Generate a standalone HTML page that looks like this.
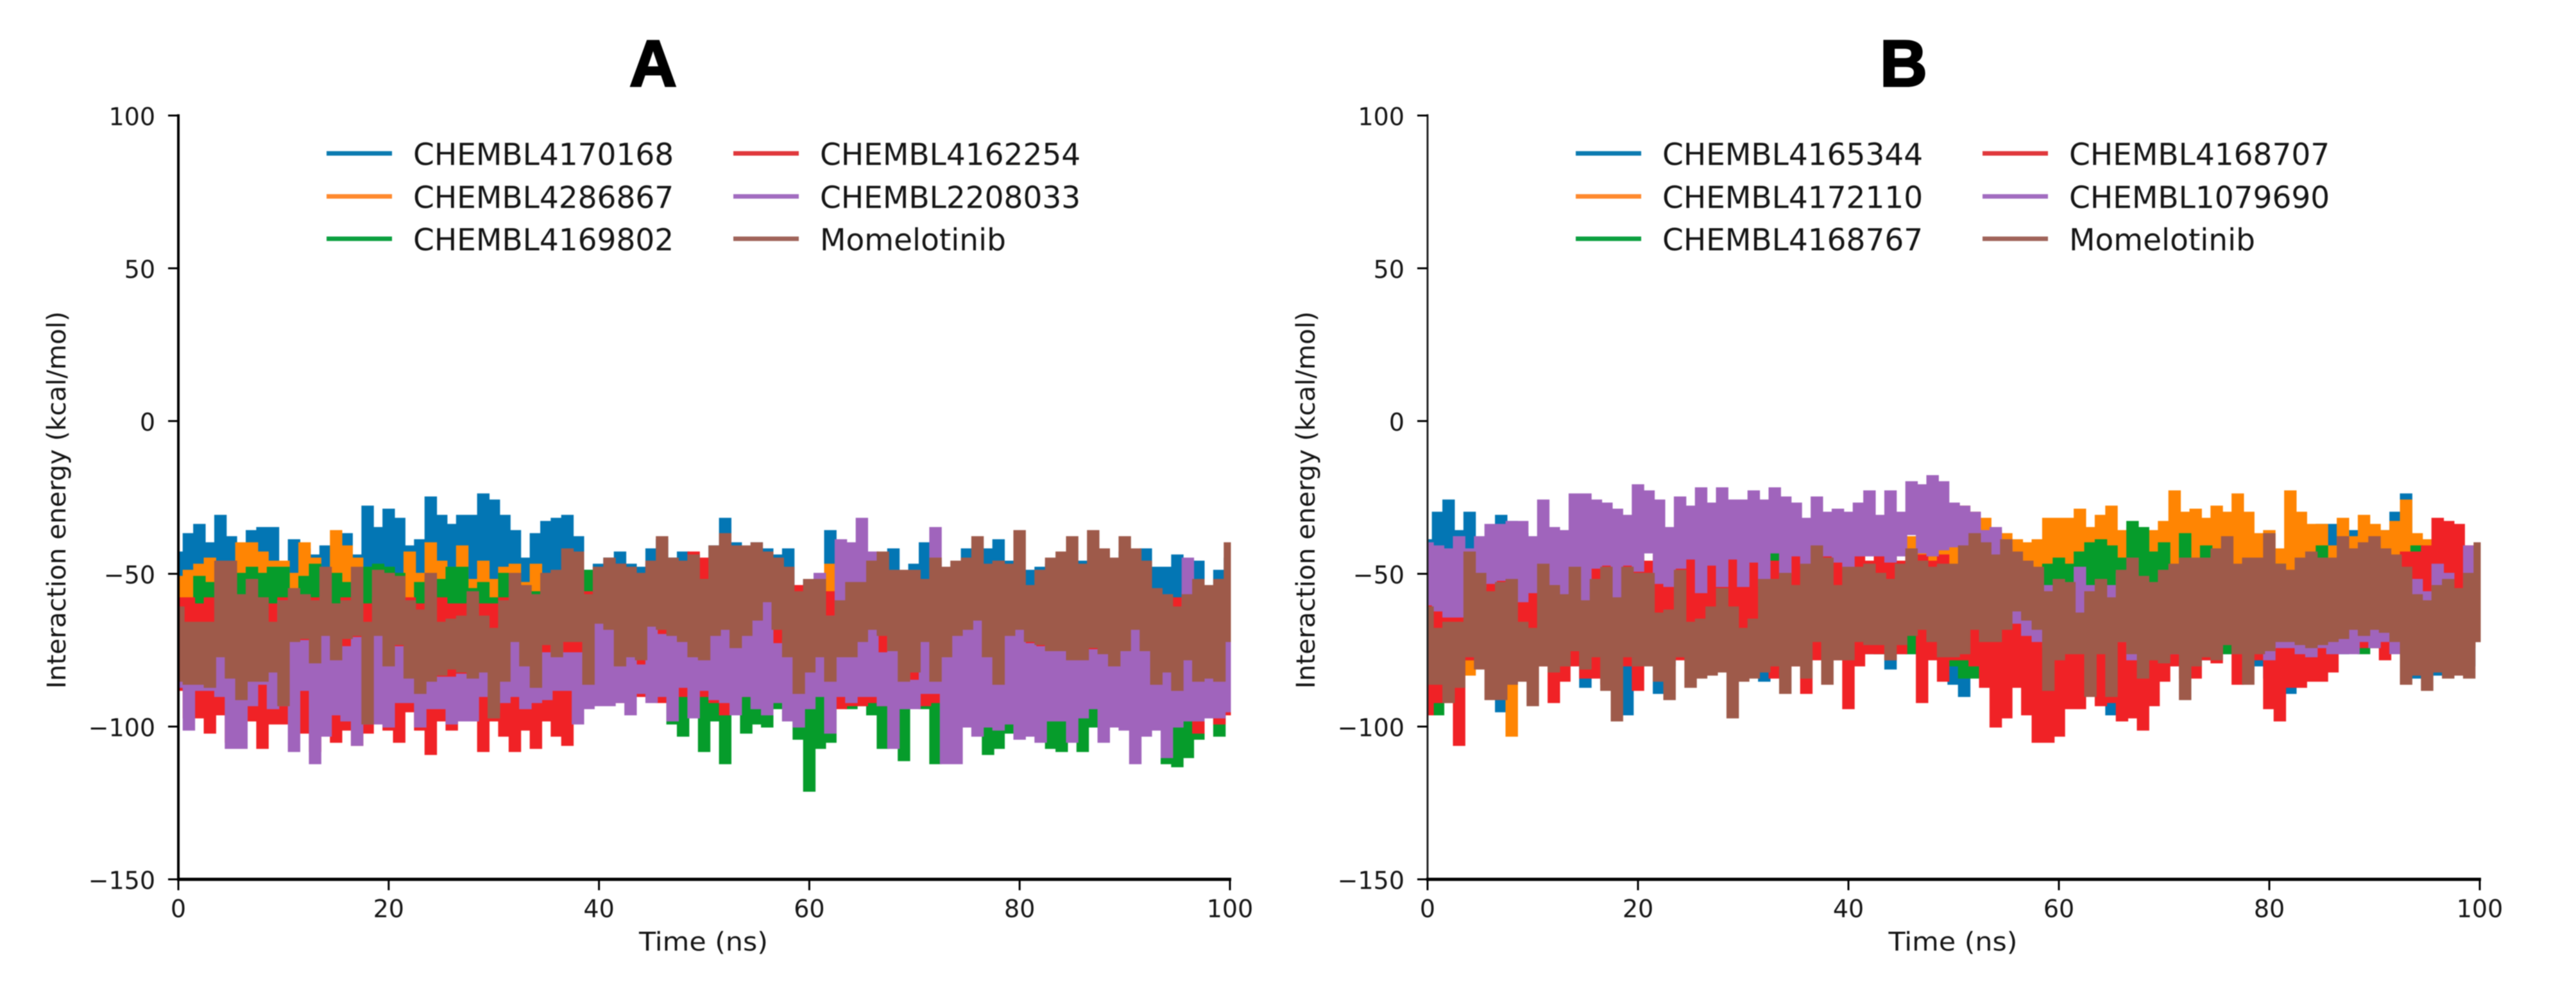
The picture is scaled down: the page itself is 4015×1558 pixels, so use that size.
<!DOCTYPE html>
<html lang="en">
<head>
<meta charset="utf-8">
<title>Interaction energy panels A and B</title>
<style>
html,body{margin:0;padding:0;background:#fff;width:4015px;height:1558px;overflow:hidden}
svg{display:block;filter:blur(0.9px)}
text{font-family:"DejaVu Sans","Liberation Sans",sans-serif;fill:#151515}
.panel-letter{font-family:"Liberation Sans",sans-serif;font-weight:700;fill:#000;stroke:#000;stroke-width:3px}
</style>
</head>
<body>
<svg id="figure" xmlns="http://www.w3.org/2000/svg" width="4015" height="1558" viewBox="0 0 4015 1558">
<rect width="4015" height="1558" fill="#fff"/>
</svg>
<script>
// Tick labels
const xTicks = [0, 20, 40, 60, 80, 100];
const yTicks = [100, 50, 0, -50, -100, -150];

// Series names
const aNames = ["CHEMBL4170168", "CHEMBL4286867", "CHEMBL4169802", "CHEMBL4162254", "CHEMBL2208033", "Momelotinib"];
const bNames = ["CHEMBL4165344", "CHEMBL4172110", "CHEMBL4168767", "CHEMBL4168707", "CHEMBL1079690", "Momelotinib"];

// Panel A: upper and lower extent of each trace for each nanosecond 0..100 (kcal/mol)
const aBlueHi = [-43,-37,-34,-40,-31,-38,-41,-36,-35,-35,-46,-39,-42,-44,-41,-45,-37,-44,-28,-35,-29,-32,-41,-39,-25,-31,-34,-31,-31,-24,-26,-31,-36,-45,-37,-33,-32,-31,-38,-49,-47,-45,-43,-47,-48,-42,-39,-45,-43,-44,-47,-41,-32,-40,-42,-40,-42,-44,-42,-54,-52,-50,-36,-48,-48,-42,-47,-47,-42,-50,-47,-40,-46,-49,-48,-42,-46,-42,-39,-46,-49,-49,-48,-47,-46,-46,-46,-46,-46,-46,-43,-43,-42,-48,-48,-44,-52,-46,-54,-49,-45];
const aBlueLo = [-60,-58,-55,-57,-56,-56,-58,-55,-56,-55,-58,-56,-57,-58,-55,-56,-55,-58,-54,-52,-52,-54,-56,-55,-52,-55,-56,-55,-54,-53,-52,-55,-58,-60,-58,-56,-58,-56,-58,-60,-60,-58,-60,-60,-62,-60,-58,-60,-60,-62,-62,-60,-60,-60,-62,-60,-60,-62,-60,-64,-62,-60,-60,-62,-60,-60,-62,-60,-60,-64,-60,-60,-62,-60,-60,-62,-60,-60,-60,-60,-62,-62,-60,-62,-60,-62,-60,-62,-60,-62,-66,-60,-60,-60,-62,-62,-60,-58,-60,-60,-60];
const aOrangeHi = [-51,-49,-47,-45,-47,-47,-40,-40,-43,-46,-46,-50,-40,-45,-50,-36,-41,-45,-50,-50,-50,-50,-43,-50,-40,-46,-48,-41,-52,-46,-52,-48,-47,-53,-47,-54,-56,-56,-56,-56,-58,-58,-58,-58,-58,-58,-58,-58,-58,-58,-58,-58,-58,-58,-58,-58,-58,-58,-58,-58,-58,-58,-47,-58,-58,-58,-58,-58,-59,-58,-58,-58,-58,-58,-58,-58,-59,-58,-58,-58,-58,-58,-58,-58,-58,-58,-58,-58,-58,-58,-58,-58,-58,-58,-58,-58,-58,-58,-58,-58,-58];
const aOrangeLo = [-64,-66,-70,-70,-70,-68,-68,-70,-68,-70,-70,-70,-68,-70,-70,-68,-70,-70,-70,-70,-70,-68,-66,-70,-68,-68,-70,-68,-70,-68,-70,-68,-70,-72,-70,-72,-72,-72,-74,-74,-74,-74,-72,-74,-72,-74,-74,-72,-74,-74,-72,-74,-72,-74,-74,-72,-74,-72,-74,-74,-72,-74,-72,-74,-74,-72,-74,-72,-74,-74,-72,-74,-72,-74,-74,-72,-74,-72,-74,-74,-72,-74,-72,-74,-74,-72,-74,-72,-74,-74,-72,-74,-72,-74,-74,-72,-74,-72,-74,-74,-72];
const aGreenHi = [-62,-60,-51,-53,-60,-57,-50,-48,-50,-48,-48,-56,-51,-47,-58,-50,-53,-55,-48,-47,-48,-50,-59,-53,-52,-52,-48,-48,-55,-53,-58,-50,-52,-54,-56,-50,-56,-56,-56,-49,-56,-56,-58,-58,-58,-58,-58,-58,-58,-58,-58,-58,-58,-58,-58,-58,-58,-58,-58,-58,-58,-58,-58,-58,-58,-58,-58,-58,-58,-58,-58,-58,-58,-58,-58,-58,-58,-58,-58,-58,-58,-58,-58,-58,-58,-58,-58,-58,-58,-58,-60,-60,-58,-58,-58,-58,-58,-58,-58,-58,-58];
const aGreenLo = [-85,-86,-84,-85,-86,-84,-85,-84,-85,-86,-86,-84,-85,-86,-85,-84,-86,-85,-86,-85,-84,-85,-86,-85,-84,-85,-86,-85,-84,-85,-86,-85,-84,-85,-86,-85,-84,-85,-86,-85,-85,-86,-84,-85,-85,-86,-88,-99,-103,-94,-108,-98,-112,-96,-102,-99,-100,-94,-98,-104,-121,-107,-105,-88,-94,-93,-96,-107,-103,-111,-92,-94,-112,-100,-94,-98,-99,-109,-107,-102,-98,-92,-98,-107,-108,-94,-108,-100,-92,-94,-94,-94,-94,-94,-112,-113,-110,-104,-94,-103,-93];
const aRedHi = [-58,-58,-60,-58,-60,-58,-60,-60,-58,-60,-58,-60,-60,-58,-60,-60,-58,-60,-60,-58,-60,-60,-58,-60,-60,-58,-60,-60,-58,-60,-60,-58,-60,-60,-58,-60,-60,-58,-58,-56,-56,-56,-47,-54,-54,-47,-54,-54,-52,-43,-45,-54,-50,-56,-56,-54,-54,-56,-56,-54,-54,-54,-56,-56,-56,-54,-54,-56,-56,-58,-58,-56,-56,-58,-58,-56,-56,-58,-58,-58,-56,-56,-58,-58,-56,-58,-58,-56,-58,-58,-56,-58,-58,-56,-58,-58,-56,-58,-58,-56,-58];
const aRedLo = [-88,-97,-97,-102,-96,-105,-106,-98,-107,-99,-99,-94,-102,-108,-90,-105,-101,-106,-102,-95,-101,-105,-95,-101,-109,-98,-101,-94,-98,-108,-98,-103,-108,-101,-107,-98,-103,-106,-93,-90,-90,-92,-92,-92,-90,-90,-92,-90,-90,-91,-90,-92,-96,-92,-90,-90,-92,-90,-88,-90,-90,-88,-90,-94,-93,-93,-92,-93,-93,-92,-92,-93,-92,-90,-90,-92,-90,-92,-90,-92,-90,-92,-90,-92,-90,-92,-90,-92,-90,-92,-92,-90,-92,-92,-92,-94,-92,-102,-92,-99,-96];
const aPurpleHi = [-77,-78,-78,-78,-75,-80,-84,-84,-84,-82,-59,-72,-72,-78,-70,-76,-74,-71,-71,-70,-76,-74,-84,-86,-70,-84,-84,-83,-84,-66,-85,-81,-72,-78,-78,-76,-72,-76,-76,-78,-66,-68,-71,-70,-80,-67,-70,-70,-70,-70,-70,-70,-59,-68,-66,-63,-59,-73,-72,-74,-68,-50,-64,-39,-40,-32,-43,-76,-62,-63,-85,-65,-35,-75,-64,-65,-63,-76,-82,-70,-64,-73,-74,-62,-73,-74,-76,-75,-72,-70,-68,-66,-66,-76,-82,-81,-45,-78,-82,-82,-72];
const aPurpleLo = [-87,-101,-88,-88,-90,-107,-107,-93,-86,-94,-93,-108,-88,-112,-103,-96,-98,-106,-99,-99,-100,-92,-92,-100,-94,-94,-99,-98,-98,-90,-95,-92,-90,-94,-92,-91,-88,-88,-99,-94,-93,-93,-92,-96,-89,-92,-90,-98,-87,-97,-88,-91,-92,-96,-90,-94,-96,-92,-98,-100,-94,-90,-102,-90,-92,-90,-90,-93,-107,-94,-94,-89,-89,-112,-112,-100,-103,-100,-101,-99,-104,-103,-105,-98,-98,-105,-97,-94,-105,-100,-101,-112,-103,-101,-110,-100,-98,-98,-97,-97,-95];
const aBrownHi = [-61,-66,-66,-66,-46,-46,-57,-52,-58,-66,-59,-55,-57,-59,-48,-60,-59,-48,-66,-49,-50,-51,-59,-62,-50,-66,-65,-64,-56,-64,-68,-59,-50,-54,-57,-50,-49,-42,-43,-57,-48,-45,-47,-48,-50,-46,-38,-45,-46,-44,-52,-41,-37,-41,-41,-40,-43,-45,-48,-56,-52,-52,-64,-59,-53,-53,-46,-43,-49,-49,-49,-52,-45,-48,-46,-45,-38,-47,-46,-47,-36,-54,-49,-45,-43,-38,-47,-36,-42,-45,-38,-42,-46,-55,-57,-61,-57,-52,-54,-52,-40];
const aBrownLo = [-85,-86,-86,-87,-77,-84,-91,-85,-85,-82,-93,-72,-71,-79,-70,-78,-71,-70,-99,-70,-80,-73,-84,-89,-85,-83,-81,-82,-84,-82,-97,-85,-72,-80,-87,-73,-77,-72,-72,-86,-66,-68,-80,-77,-78,-67,-68,-70,-72,-77,-78,-70,-68,-74,-70,-65,-59,-68,-77,-89,-82,-77,-85,-77,-77,-72,-68,-70,-75,-85,-82,-72,-85,-77,-70,-68,-65,-77,-86,-70,-68,-72,-73,-75,-75,-78,-78,-74,-76,-80,-75,-68,-75,-86,-82,-88,-78,-85,-84,-85,-72];

// Panel B: upper and lower extent of each trace for each nanosecond 0..100 (kcal/mol)
const bBlueHi = [-39,-30,-26,-36,-30,-42,-50,-31,-33,-37,-48,-50,-50,-52,-50,-42,-50,-50,-52,-50,-50,-52,-50,-50,-45,-46,-52,-52,-52,-52,-52,-52,-52,-52,-50,-52,-52,-52,-52,-52,-52,-52,-52,-52,-52,-52,-52,-52,-52,-52,-52,-52,-52,-52,-52,-52,-52,-52,-52,-52,-52,-52,-52,-52,-52,-52,-52,-52,-52,-52,-52,-52,-52,-52,-52,-52,-52,-52,-52,-52,-52,-52,-52,-52,-52,-34,-34,-52,-36,-52,-52,-36,-30,-24,-50,-52,-52,-52,-54,-54,-54];
const bBlueLo = [-70,-72,-70,-72,-72,-72,-72,-95,-80,-72,-72,-74,-74,-74,-75,-87,-76,-76,-76,-96,-76,-76,-89,-80,-76,-76,-78,-78,-78,-78,-78,-78,-85,-78,-78,-76,-76,-76,-76,-76,-78,-76,-76,-76,-81,-76,-76,-76,-76,-78,-86,-90,-78,-76,-78,-78,-78,-78,-78,-78,-78,-78,-80,-80,-80,-96,-80,-80,-78,-78,-76,-76,-78,-78,-78,-76,-76,-76,-81,-80,-84,-84,-89,-80,-78,-76,-76,-76,-74,-74,-74,-74,-74,-76,-84,-80,-83,-83,-80,-80,-72];
const bOrangeHi = [-55,-58,-58,-58,-56,-56,-56,-56,-56,-56,-56,-54,-55,-56,-54,-56,-54,-54,-56,-54,-54,-52,-54,-54,-52,-50,-54,-54,-54,-52,-54,-52,-54,-50,-52,-50,-52,-50,-50,-50,-50,-50,-48,-48,-50,-48,-38,-42,-44,-42,-30,-28,-30,-32,-36,-37,-39,-40,-39,-32,-32,-32,-29,-35,-31,-28,-36,-35,-36,-36,-33,-23,-30,-29,-32,-28,-30,-24,-30,-37,-36,-42,-23,-30,-34,-34,-41,-32,-38,-31,-34,-36,-33,-26,-37,-39,-41,-48,-48,-48,-48];
const bOrangeLo = [-80,-76,-78,-78,-83,-78,-76,-78,-103,-80,-76,-76,-76,-76,-76,-76,-76,-76,-76,-76,-79,-76,-74,-74,-74,-76,-76,-74,-74,-74,-74,-74,-74,-74,-74,-74,-74,-77,-74,-74,-72,-72,-72,-72,-72,-72,-70,-72,-70,-70,-70,-70,-72,-72,-70,-70,-72,-70,-72,-70,-70,-72,-70,-72,-70,-70,-72,-70,-72,-70,-70,-72,-70,-72,-70,-70,-72,-70,-72,-70,-70,-72,-70,-72,-70,-70,-72,-70,-72,-70,-70,-72,-70,-72,-70,-70,-72,-70,-72,-70,-70];
const bGreenHi = [-55,-55,-56,-56,-55,-56,-56,-56,-55,-55,-50,-52,-52,-52,-52,-43,-42,-48,-55,-56,-42,-52,-48,-55,-50,-50,-54,-54,-52,-54,-54,-41,-42,-41,-42,-54,-50,-54,-54,-50,-47,-52,-52,-45,-41,-54,-52,-52,-54,-52,-54,-54,-54,-52,-54,-54,-54,-54,-48,-47,-45,-47,-43,-40,-39,-41,-45,-33,-35,-43,-40,-48,-37,-46,-41,-45,-48,-50,-50,-50,-47,-47,-50,-50,-50,-41,-48,-50,-50,-50,-50,-50,-50,-52,-41,-50,-41,-50,-52,-52,-54];
const bGreenLo = [-82,-96,-84,-80,-78,-78,-76,-76,-76,-76,-76,-76,-74,-76,-76,-74,-76,-76,-74,-76,-76,-74,-76,-76,-74,-76,-76,-74,-76,-76,-74,-76,-76,-74,-76,-76,-74,-76,-76,-74,-76,-76,-74,-76,-76,-74,-76,-76,-74,-76,-80,-84,-84,-76,-74,-76,-76,-74,-76,-76,-74,-76,-76,-74,-76,-76,-74,-76,-76,-74,-76,-76,-74,-76,-76,-74,-76,-76,-74,-76,-76,-74,-76,-76,-74,-74,-74,-74,-74,-76,-72,-72,-74,-74,-72,-74,-74,-72,-74,-74,-72];
const bRedHi = [-50,-50,-52,-52,-45,-45,-46,-46,-45,-45,-44,-44,-46,-44,-44,-46,-44,-44,-46,-44,-44,-46,-44,-44,-46,-44,-44,-46,-44,-44,-46,-44,-44,-46,-44,-44,-46,-44,-44,-46,-44,-44,-46,-44,-44,-46,-44,-44,-46,-44,-55,-55,-55,-55,-55,-57,-57,-58,-57,-57,-58,-57,-57,-58,-57,-57,-58,-57,-57,-58,-57,-57,-58,-57,-57,-58,-57,-57,-52,-57,-58,-57,-57,-58,-57,-57,-58,-57,-57,-52,-57,-58,-57,-43,-43,-41,-32,-33,-34,-41,-50];
const bRedLo = [-96,-92,-92,-106,-78,-78,-78,-78,-78,-78,-80,-80,-92,-85,-80,-84,-84,-86,-78,-80,-88,-78,-78,-78,-78,-76,-78,-76,-78,-76,-76,-76,-78,-84,-80,-80,-89,-78,-78,-78,-94,-80,-76,-76,-78,-76,-68,-92,-78,-85,-78,-78,-80,-87,-100,-97,-87,-96,-105,-105,-103,-94,-94,-85,-93,-92,-98,-97,-101,-93,-85,-80,-84,-84,-78,-79,-73,-86,-78,-78,-94,-98,-87,-87,-85,-85,-82,-74,-74,-74,-74,-78,-75,-74,-74,-74,-74,-74,-74,-74,-72];
const bPurpleHi = [-40,-41,-42,-38,-42,-38,-34,-34,-33,-33,-38,-26,-35,-36,-24,-24,-26,-27,-29,-31,-21,-23,-26,-35,-25,-28,-22,-27,-22,-26,-26,-23,-26,-22,-25,-27,-32,-25,-30,-29,-30,-27,-23,-31,-23,-30,-20,-21,-18,-20,-27,-28,-30,-36,-35,-41,-52,-52,-56,-54,-56,-56,-48,-54,-56,-54,-50,-62,-62,-57,-63,-60,-63,-62,-62,-60,-59,-62,-66,-62,-64,-64,-62,-62,-64,-66,-66,-66,-64,-60,-57,-60,-62,-64,-52,-56,-47,-50,-56,-41,-58];
const bPurpleLo = [-60,-62,-64,-64,-52,-54,-53,-52,-52,-59,-56,-48,-55,-57,-48,-59,-48,-47,-58,-47,-49,-43,-53,-54,-48,-45,-56,-47,-54,-45,-54,-46,-54,-43,-50,-44,-47,-44,-44,-46,-48,-44,-44,-44,-46,-44,-37,-43,-44,-42,-41,-41,-41,-40,-52,-62,-66,-70,-72,-74,-70,-70,-66,-72,-72,-72,-72,-78,-78,-70,-74,-76,-76,-76,-76,-74,-72,-72,-70,-72,-78,-74,-74,-76,-77,-74,-76,-76,-76,-72,-74,-72,-76,-72,-60,-62,-66,-60,-62,-54,-62];
const bBrownHi = [-61,-68,-66,-66,-43,-50,-56,-53,-52,-66,-68,-47,-54,-57,-48,-59,-52,-48,-58,-48,-50,-50,-63,-62,-49,-66,-65,-61,-55,-61,-68,-65,-52,-52,-50,-54,-47,-41,-45,-54,-48,-48,-47,-50,-52,-47,-42,-46,-48,-47,-47,-41,-37,-40,-44,-39,-43,-46,-48,-56,-52,-53,-63,-56,-52,-58,-49,-45,-51,-53,-49,-47,-45,-45,-45,-42,-38,-47,-45,-45,-37,-47,-49,-45,-43,-45,-45,-38,-42,-40,-38,-42,-44,-48,-57,-59,-54,-52,-55,-50,-40];
const bBrownLo = [-86,-86,-92,-87,-77,-81,-91,-91,-86,-85,-93,-80,-82,-80,-75,-81,-77,-88,-98,-77,-80,-80,-85,-91,-77,-87,-84,-83,-82,-97,-85,-84,-82,-80,-89,-80,-84,-72,-86,-78,-78,-72,-73,-73,-78,-73,-70,-68,-72,-77,-77,-76,-68,-72,-72,-68,-62,-65,-68,-88,-78,-76,-76,-90,-76,-90,-72,-76,-84,-78,-79,-76,-91,-80,-77,-78,-73,-76,-86,-76,-75,-72,-72,-73,-74,-73,-72,-71,-68,-70,-68,-69,-72,-86,-83,-88,-82,-84,-83,-84,-72];

const SVGNS = "http://www.w3.org/2000/svg";
const figure = document.getElementById("figure");
const seriesColors = ["#0376b4", "#ff8503", "#069c2b", "#f02226", "#a064bc", "#9e5a4a"];
const legendColors = ["#0c7bb0", "#ff8a2e", "#0ca040", "#e0383c", "#a26cc0", "#a0645a"];

function make(parent, tag, attrs, text) {
  const node = document.createElementNS(SVGNS, tag);
  for (const key in attrs) node.setAttribute(key, attrs[key]);
  if (text !== undefined) node.textContent = text;
  parent.appendChild(node);
  return node;
}

// Stepped outline: each sample holds its level across half a nanosecond either side
function stepPoints(values, xScale, yScale) {
  const points = [];
  values.forEach((v, i) => {
    const x0 = xScale(Math.max(i - 0.5, 0));
    const x1 = xScale(Math.min(i + 0.5, values.length - 1));
    points.push(x0.toFixed(1) + "," + yScale(v).toFixed(1));
    points.push(x1.toFixed(1) + "," + yScale(v).toFixed(1));
  });
  return points;
}

function drawPanel(panelId, letter, letterX, left, right, ylabelX, legendX, names, hi, lo) {
  const top = 180, bottom = 1370;
  const xScale = v => left + (v - xTicks[0]) * (right - left) / (xTicks[xTicks.length - 1] - xTicks[0]);
  const yScale = v => top + (yTicks[0] - v) * (bottom - top) / (yTicks[0] - yTicks[yTicks.length - 1]);

  const panel = make(figure, "g", {});
  
  

  const title = make(panel, "text", {x: letterX, y: 134, "text-anchor": "middle", "font-size": 102, class: "panel-letter"}, letter);
  
  

  // Traces, drawn first to last so later series overlap earlier ones
  names.forEach((name, s) => {
    const upper = stepPoints(hi[s], xScale, yScale);
    const lower = stepPoints(lo[s], xScale, yScale).reverse();
    const trace = make(panel, "path", {
      d: "M" + upper.concat(lower).join("L") + "Z",
      fill: seriesColors[s], stroke: seriesColors[s], "stroke-width": 3, "stroke-linejoin": "miter", "stroke-miterlimit": 3
    });
    
    
  });

  // Axes
  const spineColor = panelId === "a" ? "#000" : "#222";
  const ySpine = make(panel, "line", {x1: left, x2: left, y1: top - 2, y2: bottom + 2, stroke: spineColor, "stroke-width": panelId === "a" ? 4 : 3});
  
  
  const xSpine = make(panel, "line", {x1: left - 2, x2: right + 2, y1: bottom, y2: bottom, stroke: "#000", "stroke-width": 5});
  
  

  yTicks.forEach(v => {
    const tick = make(panel, "line", {x1: left - 16, x2: left, y1: yScale(v), y2: yScale(v), stroke: "#000", "stroke-width": 3});
    
    
    const label = make(panel, "text", {x: left - 36, y: yScale(v) + 15, "text-anchor": "end", "font-size": 38}, String(v).replace("-", "\u2212"));
    
    
  });
  xTicks.forEach(v => {
    const tick = make(panel, "line", {x1: xScale(v), x2: xScale(v), y1: bottom, y2: bottom + 17, stroke: "#000", "stroke-width": 3});
    
    
    const label = make(panel, "text", {x: xScale(v), y: 1429, "text-anchor": "middle", "font-size": 38}, String(v));
    
    
  });

  const xTitle = make(panel, "text", {x: (left + right) / 2 - 1, y: 1481, "text-anchor": "middle", "font-size": 40, textLength: 201, lengthAdjust: "spacingAndGlyphs"}, "Time (ns)");
  
  
  const yTitle = make(panel, "text", {
    transform: "translate(" + ylabelX + " 779) rotate(-90)", "text-anchor": "middle", "font-size": 40,
    textLength: 588, lengthAdjust: "spacingAndGlyphs"
  }, "Interaction energy (kcal/mol)");
  
  

  // Legend: two columns of three rows
  const legend = make(panel, "g", {});
  
  
  const rowY = [239, 306, 372];
  names.forEach((name, s) => {
    const col = s < 3 ? 0 : 1;
    const row = s % 3;
    const x0 = legendX[col];
    const handle = make(legend, "line", {x1: x0, x2: x0 + 102, y1: rowY[row], y2: rowY[row], stroke: legendColors[s], "stroke-width": 7});
    
    
    const entry = make(legend, "text", {x: x0 + 135, y: rowY[row] + 18, "font-size": 47}, name);
    
    
  });
}

drawPanel("a", "A", 1018, 278, 1917, 102, [509, 1143], aNames,
  [aBlueHi, aOrangeHi, aGreenHi, aRedHi, aPurpleHi, aBrownHi],
  [aBlueLo, aOrangeLo, aGreenLo, aRedLo, aPurpleLo, aBrownLo]);
drawPanel("b", "B", 2967, 2225, 3865, 2049, [2456, 3090], bNames,
  [bBlueHi, bOrangeHi, bGreenHi, bRedHi, bPurpleHi, bBrownHi],
  [bBlueLo, bOrangeLo, bGreenLo, bRedLo, bPurpleLo, bBrownLo]);
</script>
</body>
</html>
